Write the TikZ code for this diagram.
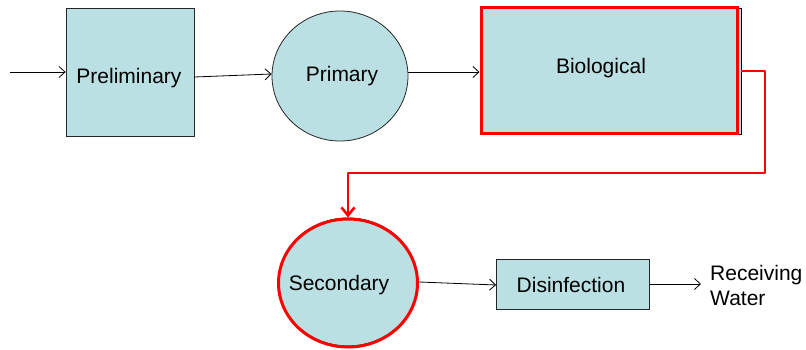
\documentclass[tikz,border=0pt]{standalone}
\usepackage{fontspec}
\setmainfont{Liberation Sans}
\usetikzlibrary{arrows.meta,shapes.geometric}
\definecolor{boxfill}{RGB}{187,224,227}
\definecolor{myred}{RGB}{255,0,0}
\tikzset{
  stage/.style={draw=black!85, line width=0.8pt, fill=boxfill, inner sep=0pt},
  lbl/.style={font=\fontsize{21}{24}\selectfont, inner sep=0pt},
  flow/.style={line width=0.8pt, -{Straight Barb[length=6pt,width=11pt]}},
  redflow/.style={myred, line width=2.8pt, line join=round, -{Straight Barb[length=8pt,width=13pt,line width=2.6pt]}}
}
\begin{document}
\begin{tikzpicture}[x=1pt,y=-1pt]
\useasboundingbox (0,0) rectangle (806,350);
% shapes
\node[stage, rectangle, minimum width=128pt, minimum height=128pt] (pre) at (130,72) {};
\node[stage, ellipse, minimum width=136pt, minimum height=130pt] (pri) at (340,76) {};
\node[draw=black, line width=0.8pt, fill=boxfill, rectangle, minimum width=260pt, minimum height=126pt, inner sep=0pt] (bioblk) at (611,71) {};
\node[draw=myred, line width=3pt, rectangle, minimum width=256pt, minimum height=126pt, inner sep=0pt] (bio) at (609,71) {};
\node[draw=black, line width=0.8pt, fill=boxfill, ellipse, minimum width=139pt, minimum height=128pt, inner sep=0pt] (secblk) at (348,282) {};
\node[draw=myred, line width=3pt, ellipse, minimum width=139pt, minimum height=128pt, inner sep=0pt] (sec) at (348,283) {};
\node[stage, rectangle, minimum width=153pt, minimum height=50pt] (dis) at (573,284) {};
% labels
\node[lbl] (preT) at (129,78) {Preliminary};
\node[lbl] (priT) at (342,76) {Primary};
\node[lbl] (bioT) at (601,68) {Biological};
\node[lbl] (secT) at (339,285) {Secondary};
\node[lbl] (disT) at (571,285) {Disinfection};
\node[lbl, align=left, anchor=west, font=\fontsize{21}{25}\selectfont] (rw) at (710,285) {Receiving\\Water};
% connectors
\coordinate (in) at (10,72);
\draw[flow] (in) -- (pre.west |- in);
\draw[flow] (pre.east |- 0,77) -- (pri.west |- 0,74);
\draw[flow] (pri.east |- 0,72) -- (bio.west |- 0,72);
\coordinate (r1) at (765,71);
\coordinate (r2) at (765,173);
\coordinate (r3) at (348,173);
\draw[redflow] (bioblk.east |- r1) -- (r1) -- (r2) -- (r3) -- (sec.north);
\draw[flow] (sec.east |- 0,282) -- (dis.west |- 0,285);
\coordinate (out) at (701,284);
\draw[flow] (dis.east) -- (out);
\end{tikzpicture}
\end{document}
